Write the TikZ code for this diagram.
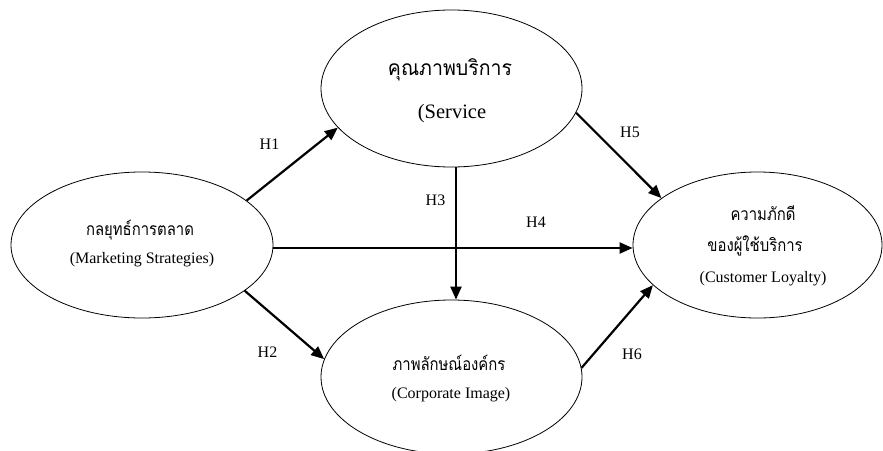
\documentclass[tikz,border=0pt]{standalone}
\usepackage{fontspec}
\setmainfont{Liberation Serif}
\newfontfamily\thaifont[Script=Thai,FakeStretch=0.85]{Loma}
\newfontfamily\thaibigfont[Script=Thai,FakeStretch=0.93]{Loma}
\usetikzlibrary{arrows.meta,shapes.geometric}
\begin{document}
\begin{tikzpicture}[x=1pt,y=-1pt,
  ell/.style={ellipse, draw, line width=0.8pt, inner sep=0pt},
  arr/.style={line width=2.2pt, -{Triangle[length=13pt,width=11pt]}},
  lbl/.style={anchor=base, inner sep=0pt, font=\fontsize{16}{18}\selectfont},
  big/.style={anchor=base, inner sep=0pt, font=\fontsize{20.5}{22}\selectfont},
  th/.style={anchor=base, inner sep=0pt, font=\thaifont\fontsize{17.5}{19}\selectfont},
  thbig/.style={anchor=base, inner sep=0pt, font=\thaibigfont\fontsize{21}{23}\selectfont}]
\useasboundingbox (0,0) rectangle (883,450);
\clip (0,0) rectangle (883,450);
% ellipses
\node[ell, minimum width=262pt, minimum height=146pt] (ms) at (142,245) {};
\node[ell, minimum width=261pt, minimum height=157pt] (sv) at (451.5,88.5) {};
\node[ell, minimum width=249pt, minimum height=146pt] (cl) at (757.5,245) {};
\node[ell, minimum width=261pt, minimum height=154pt] (ci) at (451.5,377) {};
% texts
\node[th] (msth) at (140,235) {กลยุทธ์การตลาด};
\node[lbl] (msen) at (142,263) {(Marketing Strategies)};
\node[thbig] (svth) at (450,75) {คุณภาพบริการ};
\node[big] (sven) at (452,118) {(Service};
\node[th] (clth1) at (763,220) {ความภักดี};
\node[th] (clth2) at (755,251) {ของผู้ใช้บริการ};
\node[lbl] (clen) at (763,282) {(Customer Loyalty)};
\node[th] (cith) at (449,370) {ภาพลักษณ์องค์กร};
\node[lbl] (cien) at (451,398) {(Corporate Image)};
% arrows
\draw[arr] (ms.23) -- (sv.199);
\draw[arr] (ms.336) -- (ci.172);
\draw[arr] ([xshift=4.5pt]sv.south) -- ([xshift=4.5pt]ci.north);
\draw[arr] ([yshift=-3pt]ms.east) -- ([yshift=-3pt]cl.west);
\draw[arr] (sv.349) -- (cl.154);
\draw[arr] (ci.4) -- (cl.201);
% labels
\node[lbl] (h1) at (269.5,149) {H1};
\node[lbl] (h2) at (267.5,357) {H2};
\node[lbl] (h3) at (435.5,205) {H3};
\node[lbl] (h4) at (536,227) {H4};
\node[lbl] (h5) at (630,137) {H5};
\node[lbl] (h6) at (632,359) {H6};
\end{tikzpicture}
\end{document}
